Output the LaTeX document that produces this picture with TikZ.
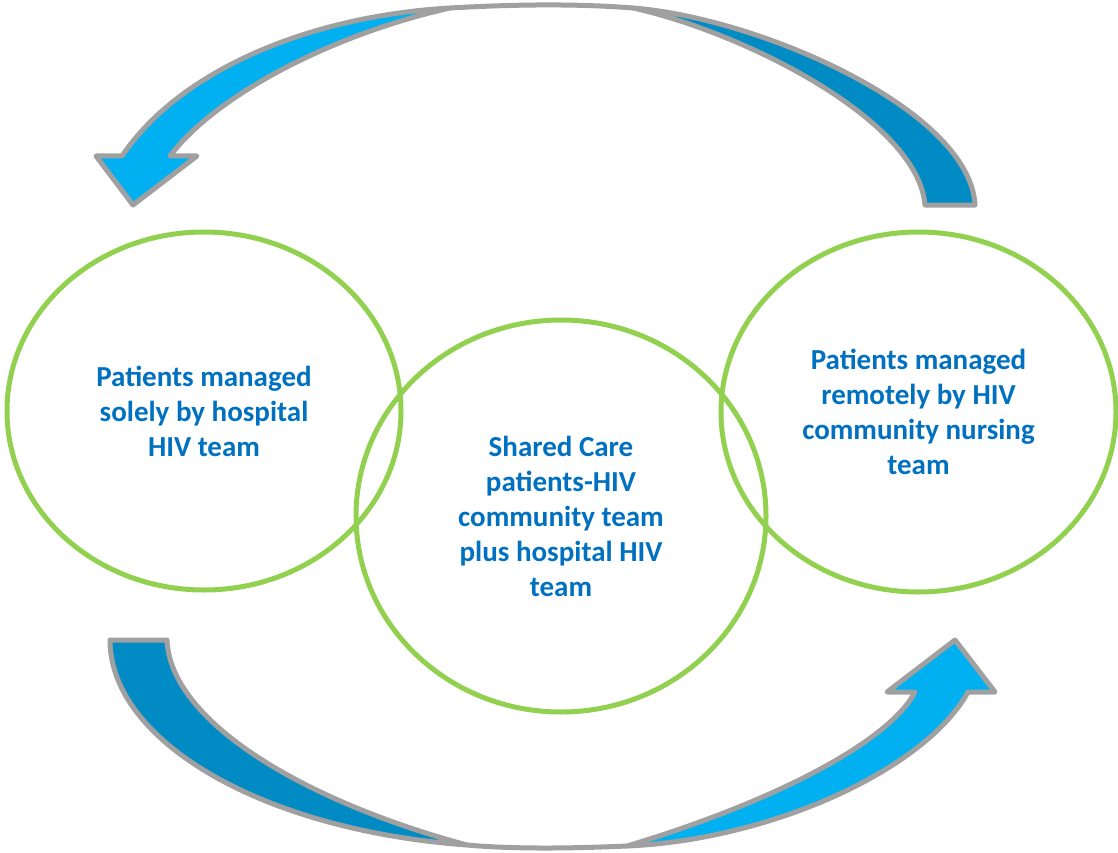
\documentclass[tikz,border=0pt]{standalone}
\usepackage{fontspec}
\setmainfont{Carlito}
\usetikzlibrary{shapes.geometric}
\definecolor{ringgreen}{RGB}{146,208,80}
\definecolor{labelblue}{RGB}{0,112,192}
\definecolor{frontblue}{RGB}{0,176,240}
\definecolor{backblue}{RGB}{0,139,196}
\definecolor{rimgray}{RGB}{160,160,160}
\tikzset{
  ring/.style={ellipse, draw=ringgreen, line width=5pt, inner sep=0pt,
    align=center, text=labelblue, font=\bfseries\fontsize{29}{35}\selectfont},
  front/.style={fill=frontblue, draw=rimgray, line width=5pt, line join=round},
  back/.style={fill=backblue, draw=rimgray, line width=5pt, line join=round},
  twist/.style={draw=rimgray, line width=5pt},
}
\begin{document}
\begin{tikzpicture}[x=1pt,y=-1pt]
\useasboundingbox (0,0) rectangle (1118,853);

% upper curved arrow: back face (tail) on the right, front face with head on the left
\path[back] (925,205) -- (975,205)
  .. controls (970,110) and (760,18) .. (633,8)
  .. controls (743,32) and (918,120) .. (925,205) -- cycle;
\draw[twist] (450,8) .. controls (510,4.6) and (573,3.3) .. (633,8);
\path[front] (133,205) -- (96,156) -- (122,156)
  .. controls (180,70) and (310,16) .. (450,8)
  .. controls (330,35) and (215,96) .. (170,156)
  -- (197,156) -- cycle;

% lower curved arrow: back face (tail) on the left, front face with head on the right
\path[back] (110,640) -- (167,640)
  .. controls (170,720) and (300,800) .. (467,845)
  .. controls (260,830) and (110,740) .. (110,640) -- cycle;
\draw[twist] (467,845) .. controls (517,849.5) and (577,848.2) .. (627,846);
\path[front] (955,640) -- (995,692) -- (968,692)
  .. controls (925,770) and (770,840) .. (627,846)
  .. controls (780,800) and (890,740) .. (915,692)
  -- (887,692) -- cycle;

% the three care settings
\node[ring, minimum width=394pt, minimum height=358pt] (solely) at (204,411)
  {Patients managed\\solely by hospital\\HIV team};
\node[ring, minimum width=410pt, minimum height=392pt] (shared) at (561,516)
  {Shared Care\\patients-HIV\\community team\\plus hospital HIV\\team};
\node[ring, minimum width=395pt, minimum height=360pt] (remote) at (918.5,412)
  {Patients managed\\remotely by HIV\\community nursing\\team};
\end{tikzpicture}
\end{document}
